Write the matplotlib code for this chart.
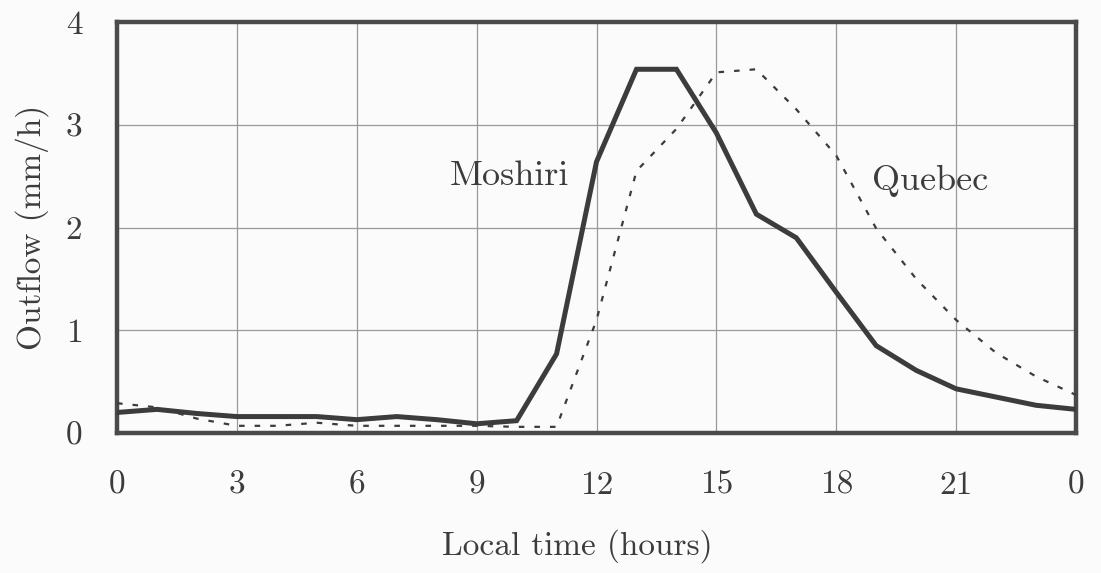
import matplotlib.pyplot as plt

FONT = 'cmr10'
INK = '#3c3c3c'

hours = list(range(25))
tick_hours = [0, 3, 6, 9, 12, 15, 18, 21, 24]
tick_labels = ['0', '3', '6', '9', '12', '15', '18', '21', '0']

# hourly outflow (mm/h)
moshiri = [0.20, 0.23, 0.19, 0.16, 0.16, 0.16, 0.13, 0.16, 0.13, 0.09, 0.12,
           0.77, 2.64, 3.54, 3.54, 2.92, 2.13, 1.90, 1.37, 0.85, 0.61, 0.43,
           0.35, 0.27, 0.23]
quebec = [0.29, 0.25, 0.14, 0.07, 0.07, 0.10, 0.07, 0.07, 0.07, 0.07, 0.06,
          0.06, 1.10, 2.55, 2.96, 3.51, 3.54, 3.15, 2.70, 1.99, 1.50, 1.10,
          0.78, 0.55, 0.37]

fig = plt.figure(figsize=(11.01, 5.73), dpi=100, facecolor='#fbfbfb')
ax = fig.add_axes([0.1063, 0.2443, 0.8710, 0.7173])
ax.set_facecolor('#fbfbfb')

ax.grid(True, color='#9a9a9a', linewidth=0.9, zorder=0)
ax.plot(hours, quebec, color=INK, linewidth=1.6, linestyle=(0, (2.5, 4.5)), zorder=3)
ax.plot(hours, moshiri, color=INK, linewidth=3.6, solid_joinstyle='miter', zorder=4)

ax.text(9.83, 2.50, 'Moshiri', fontsize=26, family=FONT, color=INK, ha='center', va='center')
ax.text(20.35, 2.45, 'Quebec', fontsize=26, family=FONT, color=INK, ha='center', va='center')

ax.set_xlim(0, 24)
ax.set_ylim(0, 4)
ax.set_xticks(tick_hours, tick_labels)
ax.set_yticks([0, 1, 2, 3, 4])
ax.tick_params(length=0, labelsize=24, labelcolor=INK)
ax.tick_params(axis='x', pad=27)
ax.tick_params(axis='y', pad=25)
for lab in ax.get_xticklabels() + ax.get_yticklabels():
    lab.set_family(FONT)

ax.set_xlabel('Local time (hours)', fontsize=24, family=FONT, color=INK, labelpad=21, x=0.48)
ax.set_ylabel('Outflow (mm/h)', fontsize=24, family=FONT, color=INK, labelpad=12)

for side in ax.spines.values():
    side.set_linewidth(3.2)
    side.set_color('#4a4a4a')

plt.savefig('out.png', dpi=100, facecolor=fig.get_facecolor())
